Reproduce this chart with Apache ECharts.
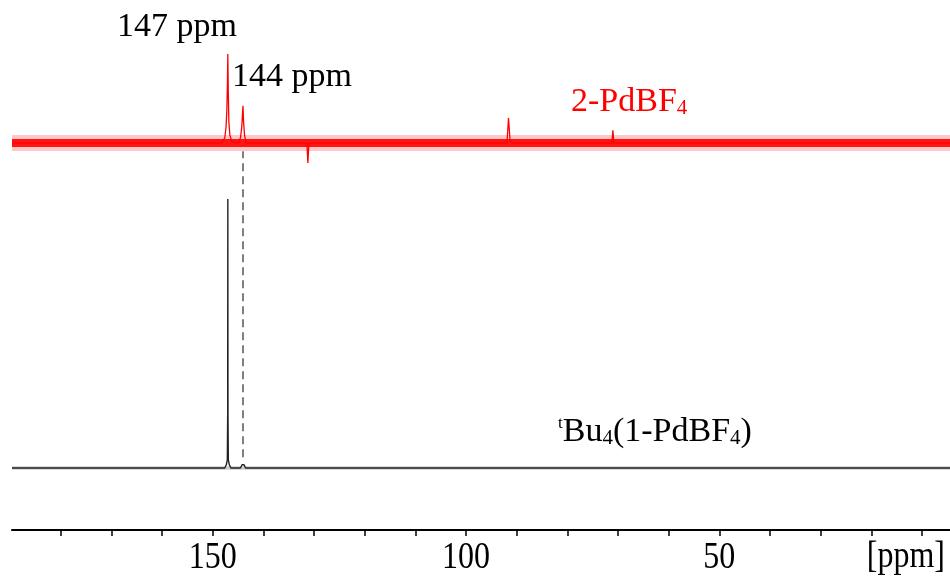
<!DOCTYPE html>
<html>
<head>
<meta charset="utf-8">
<script src="https://cdn.jsdelivr.net/npm/echarts@6/dist/echarts.min.js"></script>
<style>
  html, body { margin: 0; padding: 0; background: #fff; }
  #chart { width: 950px; height: 576px; }
</style>
</head>
<body>
<div id="chart"></div>
<script>
// 13C spectra: chemical shift (ppm) and intensity relative to each trace's baseline
const redPpm       = [189.6, 148.2, 147.6, 147.35, 147.2, 147.08, 147.0, 146.92, 146.8, 146.6, 146.2, 144.9, 144.5, 144.25, 144.1, 144.0, 143.9, 143.7, 143.4, 131.4, 131.2, 131.0, 91.9, 91.6, 91.3, 90.8, 71.2, 71.0, 70.8, 4.46];
const redIntensity = [0,     0,     2,     6,      12,    22,     33.1,  20,     8,     3,     0.5,   0,     2,     6,      11,    13.9,  8,     3,     0,     0,     -7.4,  0,     0,    9.3,  1,    0,    0,    4.8,  0,    0];
const blackPpm       = [189.6, 147.6, 147.3, 147.1, 147.03, 147.0, 146.97, 146.9, 146.7, 146.4, 144.5, 144.2, 144.0, 143.8, 143.5, 4.46];
const blackIntensity = [0,     0,     1.2,   3,     20,     100,   20,     3,     1.2,   0,     0,     1.2,   1.8,   1.2,   0,     0];

const tickValues = [10, 20, 30, 40, 50, 60, 70, 80, 90, 100, 110, 120, 130, 140, 150, 160, 170, 180];
const axisLabelValues = [150, 100, 50];
const axisUnit = '[ppm]';
const peakLabels = ['147 ppm', '144 ppm'];
const markedShift = 144;
const traceNames = ['2-PdBF4', 'tBu4(1-PdBF4)'];

// vertical offset that stacks the red trace above the black one
const RED_OFFSET = 120.8;
const SERIF = '"Liberation Serif", "Times New Roman", serif';

const zip = (xs, ys, off) => xs.map((x, i) => [x, ys[i] + (off || 0)]);
const redData = zip(redPpm, redIntensity, RED_OFFSET);
const blackData = zip(blackPpm, blackIntensity, 0);
const redBase = [[redPpm[0], RED_OFFSET], [redPpm[redPpm.length - 1], RED_OFFSET]];
const blackBase = [[blackPpm[0], 0], [blackPpm[blackPpm.length - 1], 0]];

const chart = echarts.init(document.getElementById('chart'), null, { renderer: 'canvas' });

chart.setOption({
  animation: false,
  backgroundColor: '#fff',
  grid: { left: 12, right: 0, top: 0, bottom: 46 },
  xAxis: {
    type: 'value',
    inverse: true,
    min: 4.46,
    max: 189.6,
    axisLine: { show: true, onZero: false, lineStyle: { color: '#000', width: 2 } },
    axisTick: { show: true, length: 6, customValues: tickValues, lineStyle: { color: '#000', width: 1.5 } },
    axisLabel: { show: false },
    splitLine: { show: false }
  },
  yAxis: {
    type: 'value',
    min: -23.05,
    max: 174,
    show: false
  },
  series: [
    { // red noise band
      type: 'line', data: redBase, symbol: 'none', silent: true,
      lineStyle: { color: '#ff0000', width: 16, opacity: 0.22 }, z: 1
    },
    {
      type: 'line', data: redBase, symbol: 'none', silent: true,
      lineStyle: { color: '#ff0000', width: 8, opacity: 0.9 }, z: 2
    },
    {
      name: traceNames[0], type: 'line', data: redData, symbol: 'none',
      lineStyle: { color: '#ff0000', width: 1.3 }, z: 3
    },
    { // black baseline noise
      type: 'line', data: blackBase, symbol: 'none', silent: true,
      lineStyle: { color: '#000', width: 3.5, opacity: 0.2 }, z: 1
    },
    {
      name: traceNames[1], type: 'line', data: blackData, symbol: 'none',
      lineStyle: { color: '#222', width: 1.4 }, z: 3,
      markLine: {
        silent: true, symbol: 'none', label: { show: false },
        lineStyle: { color: '#555', width: 1.5, type: [8, 5] },
        data: [[{ coord: [markedShift, 4] }, { coord: [markedShift, RED_OFFSET - 3] }]]
      }
    }
  ]
});

// axis tick labels and annotations (serif text, slightly tall)
const graphics = axisLabelValues.map(v => ({
  type: 'text',
  x: chart.convertToPixel({ xAxisIndex: 0 }, v),
  y: 557.5,
  scaleY: 1.2,
  style: { text: String(v), fontSize: 32, fontFamily: SERIF, fill: '#000', align: 'center', verticalAlign: 'middle' }
}));

graphics.push({
  type: 'text', x: 945, y: 557, scaleY: 1.2,
  style: { text: axisUnit, fontSize: 32, fontFamily: SERIF, fill: '#000', align: 'right', verticalAlign: 'middle' }
});

graphics.push({
  type: 'text', x: 117, y: 27,
  style: { text: peakLabels[0], fontSize: 34, fontFamily: SERIF, fill: '#000', align: 'left', verticalAlign: 'middle' }
});
graphics.push({
  type: 'text', x: 232, y: 77,
  style: { text: peakLabels[1], fontSize: 34, fontFamily: SERIF, fill: '#000', align: 'left', verticalAlign: 'middle' }
});

graphics.push({
  type: 'text', x: 571, y: 102,
  style: {
    text: '{m|2-PdBF}{s|4}',
    fill: '#ff0000', align: 'left', verticalAlign: 'middle',
    rich: {
      m: { fontSize: 34, fontFamily: SERIF, fill: '#ff0000', verticalAlign: 'bottom' },
      s: { fontSize: 21, fontFamily: SERIF, fill: '#ff0000', verticalAlign: 'bottom' }
    }
  }
});
graphics.push({
  type: 'text', x: 558, y: 432,
  style: {
    text: '{t|t}{m|Bu}{s|4}{m|(1-PdBF}{s|4}{m|)}',
    fill: '#000', align: 'left', verticalAlign: 'middle',
    rich: {
      t: { fontSize: 17, fontFamily: SERIF, fill: '#000', verticalAlign: 'top' },
      m: { fontSize: 34, fontFamily: SERIF, fill: '#000', verticalAlign: 'bottom' },
      s: { fontSize: 21, fontFamily: SERIF, fill: '#000', verticalAlign: 'bottom' }
    }
  }
});

chart.setOption({ graphic: graphics });
</script>
</body>
</html>
